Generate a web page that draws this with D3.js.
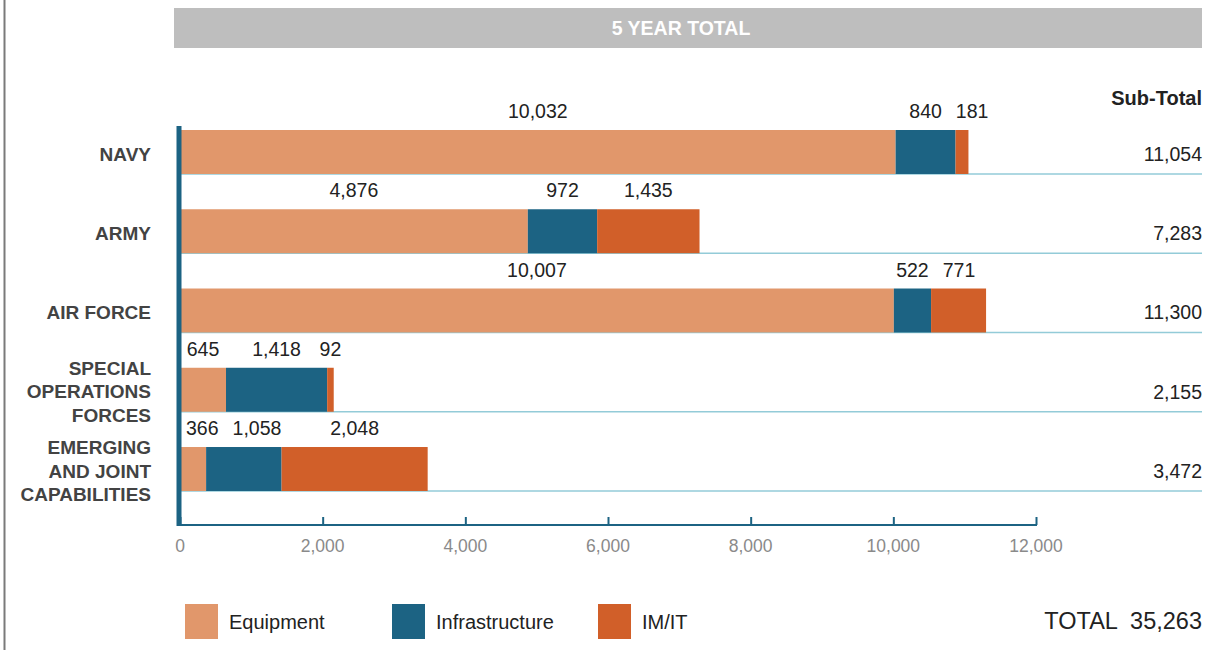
<!DOCTYPE html>
<html>
<head>
<meta charset="utf-8">
<script src="https://cdn.jsdelivr.net/npm/d3@7"></script>
<style>
  body { margin: 0; background: #fff; }
  svg { display: block; font-family: "Liberation Sans", Arial, sans-serif; }
</style>
</head>
<body>
<div id="chart"></div>
<script>
(function (d3) {
    'use strict';

    // Data.
    var branches = ['NAVY', 'ARMY', 'AIR FORCE', 'SPECIAL OPERATIONS FORCES', 'EMERGING AND JOINT CAPABILITIES'];
    var branchLines = [['NAVY'], ['ARMY'], ['AIR FORCE'], ['SPECIAL', 'OPERATIONS', 'FORCES'], ['EMERGING', 'AND JOINT', 'CAPABILITIES']];
    var seriesNames = ['Equipment', 'Infrastructure', 'IM/IT'];
    var equipment = [10032, 4876, 10007, 645, 366];
    var infrastructure = [840, 972, 522, 1418, 1058];
    var imit = [181, 1435, 771, 92, 2048];
    var subTotals = [11054, 7283, 11300, 2155, 3472];
    var grandTotal = 35263;
    var xTicks = [0, 2000, 4000, 6000, 8000, 10000, 12000];

    var colors = ['#e1976b', '#1c6383', '#d15f29'];
    var fmt = d3.format(',');

    var width = 1217;
    var height = 650;

    var svg = d3.select('#chart').append('svg')
        .attr('width', width)
        .attr('height', height);

    // left frame line
    svg.append('line')
        .attr('x1', 4.5).attr('x2', 4.5)
        .attr('y1', 0).attr('y2', height)
        .attr('stroke', '#7a7a7a')
        .attr('stroke-width', 2);

    // header band
    svg.append('rect')
        .attr('x', 174).attr('y', 8)
        .attr('width', 1028).attr('height', 40)
        .attr('fill', '#bebebe');
    svg.append('text')
        .attr('x', 681).attr('y', 28)
        .attr('dy', '0.35em')
        .attr('text-anchor', 'middle')
        .attr('fill', '#fff')
        .attr('font-weight', 'bold')
        .attr('font-size', 19.5)
        .text('5 YEAR TOTAL');

    var x = d3.scaleLinear().domain([0, 12000]).range([180, 1036]);
    var y = d3.scaleBand().domain(branches).range([130, 491]).paddingInner(0.445).paddingOuter(0);

    // Build stacked rows from the arrays.
    var rows = branches.map(function (b, i) {
        return {branch: b, Equipment: equipment[i], Infrastructure: infrastructure[i], 'IM/IT': imit[i]};
    });
    var stack = d3.stack().keys(seriesNames)(rows);

    // light blue rules under each bar
    svg.append('g').selectAll('line')
        .data(branches)
        .join('line')
        .attr('x1', 180)
        .attr('x2', 1202)
        .attr('y1', function (d) { return y(d) + y.bandwidth(); })
        .attr('y2', function (d) { return y(d) + y.bandwidth(); })
        .attr('stroke', '#93cbd8')
        .attr('stroke-width', 1.5);

    // bars
    svg.append('g').selectAll('g')
        .data(stack)
        .join('g')
        .attr('fill', function (d, i) { return colors[i]; })
        .selectAll('rect')
        .data(function (d) { return d; })
        .join('rect')
        .attr('x', function (d) { return x(d[0]); })
        .attr('width', function (d) { return x(d[1]) - x(d[0]); })
        .attr('y', function (d) { return y(d.data.branch); })
        .attr('height', y.bandwidth());

    // value labels over each segment, nudged apart when they collide
    var labels = svg.append('g')
        .attr('font-size', 19.5)
        .attr('fill', '#222');

    branches.forEach(function (b, i) {
        var lastRight = -Infinity;
        stack.forEach(function (layer) {
            var seg = layer[i];
            var t = labels.append('text')
                .attr('y', y(b) - 12)
                .attr('text-anchor', 'middle')
                .text(fmt(seg[1] - seg[0]));
            var w = t.node().getComputedTextLength();
            var cx = (x(seg[0]) + x(seg[1])) / 2;
            if (cx - w / 2 < lastRight + 14) {
                cx = lastRight + 14 + w / 2;
            }
            if (cx - w / 2 < 186) {
                cx = 186 + w / 2;
            }
            t.attr('x', cx);
            lastRight = cx + w / 2;
        });
    });

    // category labels
    var cat = svg.append('g')
        .attr('font-size', 19)
        .attr('font-weight', 'bold')
        .attr('fill', '#434343')
        .attr('text-anchor', 'end');

    branches.forEach(function (b, i) {
        var lines = branchLines[i];
        var cy = y(b) + y.bandwidth() / 2 + 2;
        var lh = 23.5;
        lines.forEach(function (l, j) {
            cat.append('text')
                .attr('x', 151)
                .attr('y', cy + (j - (lines.length - 1) / 2) * lh)
                .attr('dy', '0.35em')
                .text(l);
        });
    });

    // subtotals
    svg.append('text')
        .attr('x', 1202).attr('y', 98)
        .attr('dy', '0.35em')
        .attr('text-anchor', 'end')
        .attr('font-weight', 'bold')
        .attr('font-size', 20)
        .attr('fill', '#222')
        .text('Sub-Total');

    svg.append('g').selectAll('text')
        .data(subTotals)
        .join('text')
        .attr('x', 1202)
        .attr('y', function (d, i) { return y(branches[i]) + y.bandwidth() / 2 + 2; })
        .attr('dy', '0.35em')
        .attr('text-anchor', 'end')
        .attr('font-size', 19.5)
        .attr('fill', '#222')
        .text(function (d) { return fmt(d); });

    // x-axis
    var xAxis = svg.append('g')
        .attr('transform', 'translate(0,525)')
        .call(d3.axisTop(x).tickValues(xTicks).tickSize(8).tickFormat(''));
    xAxis.select('.domain').remove();
    xAxis.selectAll('.tick line').attr('stroke', '#1c6383').attr('stroke-width', 2);
    xAxis.append('line')
        .attr('x1', 180).attr('x2', 1037)
        .attr('stroke', '#1c6383')
        .attr('stroke-width', 2);

    svg.append('g').selectAll('text')
        .data(xTicks)
        .join('text')
        .attr('x', function (d) { return x(d); })
        .attr('y', 546)
        .attr('dy', '0.35em')
        .attr('text-anchor', 'middle')
        .attr('font-size', 17.5)
        .attr('fill', '#8a8a8a')
        .text(function (d) { return fmt(d); });

    // y-axis bar
    svg.append('line')
        .attr('x1', 179).attr('x2', 179)
        .attr('y1', 126).attr('y2', 526)
        .attr('stroke', '#1c6383')
        .attr('stroke-width', 5);

    // legend
    var legendX = [185, 392, 598];
    var legend = svg.append('g').selectAll('g')
        .data(seriesNames)
        .join('g')
        .attr('transform', function (d, i) { return 'translate(' + legendX[i] + ',604)'; });
    legend.append('rect')
        .attr('width', 33)
        .attr('height', 35)
        .attr('fill', function (d, i) { return colors[i]; });
    legend.append('text')
        .attr('x', 44)
        .attr('y', 18)
        .attr('dy', '0.35em')
        .attr('font-size', 20)
        .attr('fill', '#222')
        .text(function (d) { return d; });

    svg.append('text')
        .attr('x', 1202).attr('y', 621)
        .attr('dy', '0.35em')
        .attr('text-anchor', 'end')
        .attr('font-size', 23.5)
        .attr('fill', '#222')
        .attr('xml:space', 'preserve')
        .text('TOTAL  ' + fmt(grandTotal));

})(d3);
</script>
</body>
</html>
